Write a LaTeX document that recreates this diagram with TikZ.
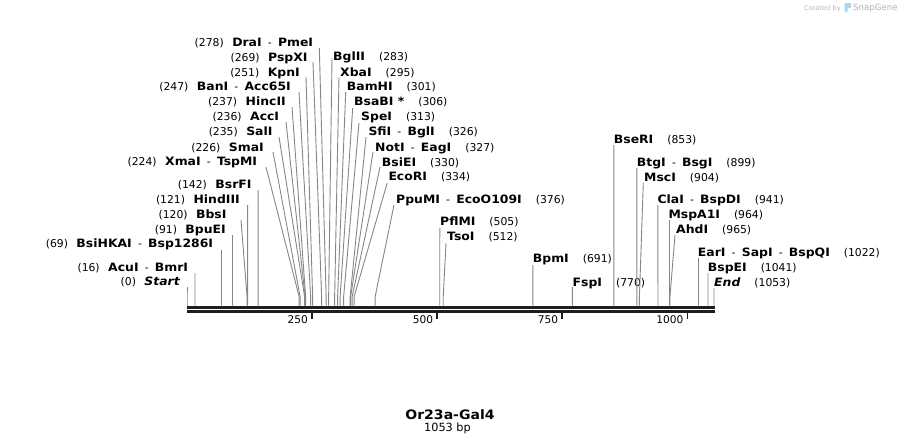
\documentclass[tikz,border=0pt]{standalone}
\usepackage{fontspec}
\setmainfont{DejaVu Sans}
\newfontfamily\bfont{DejaVu Sans}[FakeStretch=1.08]
\usetikzlibrary{calc}
\definecolor{dna}{HTML}{1E1E1E}
\definecolor{cut}{HTML}{868686}
\definecolor{wm}{HTML}{B8B8B8}
\definecolor{wmlogo}{HTML}{A9D8F2}
\tikzset{
  lbl/.style={inner sep=0pt, text=black, font=\fontsize{10.8}{12}\selectfont},
  cutline/.style={draw=cut, line width=0.9pt},
  dnaline/.style={draw=dna, line width=2.4pt},
  tick/.style={draw=dna, line width=1.8pt},
  ticklbl/.style={inner sep=0pt, anchor=base east, font=\fontsize{10.6}{12}\selectfont},
}
\newcommand\nm[1]{{\bfont\bfseries\fontsize{11.5}{12}\selectfont #1}}
\newcommand\nmi[1]{{\bfont\bfseries\itshape\fontsize{11.5}{12}\selectfont #1}}
\newcommand\dsh{\hspace{6.2pt}-\hspace{6.2pt}}
\newcommand\gapL{\hspace{8.5pt}}
\newcommand\gapR{\hspace{14pt}}
% left-hand label: id, bp, text right x, centre y, top x, top y, text
\newcommand\siteL[7]{%
  \node[lbl, anchor=base east] (#1) at (#3,#4+4) {#7};
  \coordinate (#1-s) at ({187+#2*0.50047},305.5);
  \coordinate (#1-t) at (#5,#6);
  \draw[cutline] (#1-s) -- ++(0,-9) -- (#1-t);}
% right-hand label: id, bp, text left x, centre y, top x, top y, text
\newcommand\siteR[7]{%
  \node[lbl, anchor=base west] (#1) at (#3,#4+4) {#7};
  \coordinate (#1-s) at ({187+#2*0.50047},305.5);
  \coordinate (#1-t) at (#5,#6);
  \draw[cutline] (#1-s) -- ++(0,-9) -- (#1-t);}
\begin{document}
\begin{tikzpicture}[x=1pt,y=-1pt]
\useasboundingbox (0,0) rectangle (901,445);
% watermark
\node[inner sep=0pt, anchor=base east, text=wm, font=\fontsize{6.7}{8}\selectfont] (wm1) at (841,10) {Created by};
\fill[wmlogo, rounded corners=1pt] (844.5,3) rectangle (851,8);
\fill[wmlogo, rounded corners=0.8pt] (844.5,3) rectangle (847.5,12);
\node[inner sep=0pt, anchor=base west, text=wm!90!gray, font=\fontsize{8.6}{10}\selectfont] (wm2) at (853,10.5) {SnapGene};
% DNA
\coordinate (d0) at (187,307.3);
\coordinate (d1) at (714.5,307.3);
\coordinate (e0) at (187,311.3);
\coordinate (e1) at (714.5,311.3);
\draw[dnaline] (d0) -- (d1);
\draw[dnaline] (e0) -- (e1);
% ticks
\foreach \v/\t in {250/t250,500/t500,750/t750,1000/t1000}{
  \coordinate (\t-a) at ({187+\v*0.50047},312);
  \draw[tick] (\t-a) -- ++(0,6.5);
  \node[ticklbl] (\t) at ({187+\v*0.50047-4},323.5) {\v};
}
% left labels
\siteL{start}{0}{180}{281}{187}{287}{(0)\gapL\nmi{Start}}
\siteL{acui}{16}{188.3}{267.5}{195}{273}{(16)\gapL\nm{AcuI}\dsh\nm{BmrI}}
\siteL{bsihkai}{69}{213.3}{243.5}{221.5}{250}{(69)\gapL\nm{BsiHKAI}\dsh\nm{Bsp1286I}}
\siteL{bpuei}{91}{226}{229.5}{232.5}{235}{(91)\gapL\nm{BpuEI}}
\siteL{bbsi}{120}{226.7}{214.5}{241}{220}{(120)\gapL\nm{BbsI}}
\siteL{hindiii}{121}{240}{199.5}{247.6}{205}{(121)\gapL\nm{HindIII}}
\siteL{bsrfi}{142}{251.7}{184}{258.1}{190}{(142)\gapL\nm{BsrFI}}
\siteL{xmai}{224}{257.3}{161.5}{266}{167}{(224)\gapL\nm{XmaI}\dsh\nm{TspMI}}
\siteL{smai}{226}{264}{147}{273}{152}{(226)\gapL\nm{SmaI}}
\siteL{sali}{235}{272.7}{131.5}{279}{137}{(235)\gapL\nm{SalI}}
\siteL{acci}{236}{279.3}{116}{286}{122}{(236)\gapL\nm{AccI}}
\siteL{hincii}{237}{286}{101.5}{292}{107}{(237)\gapL\nm{HincII}}
\siteL{bani}{247}{291}{86.5}{299}{92}{(247)\gapL\nm{BanI}\dsh\nm{Acc65I}}
\siteL{kpni}{251}{300}{72}{306}{77}{(251)\gapL\nm{KpnI}}
\siteL{pspxi}{269}{307.7}{57}{313}{62}{(269)\gapL\nm{PspXI}}
\siteL{drai}{278}{313.3}{42.8}{319.3}{48}{(278)\gapL\nm{DraI}\dsh\nm{PmeI}}
% right labels
\siteR{bglii}{283}{333}{56.5}{332}{58}{\nm{BglII}\gapR(283)}
\siteR{xbai}{295}{340}{72}{339}{77}{\nm{XbaI}\gapR(295)}
\siteR{bamhi}{301}{346.7}{86.5}{345.7}{92}{\nm{BamHI}\gapR(301)}
\siteR{bsabi}{306}{354}{101.5}{352.7}{108}{\nm{BsaBI *}\gapR(306)}
\siteR{spei}{313}{361}{116}{359}{123}{\nm{SpeI}\gapR(313)}
\siteR{sfii}{326}{368.3}{131.5}{366}{137}{\nm{SfiI}\dsh\nm{BglI}\gapR(326)}
\siteR{noti}{327}{375}{147}{373}{152}{\nm{NotI}\dsh\nm{EagI}\gapR(327)}
\siteR{bsiei}{330}{381.7}{162}{380}{167}{\nm{BsiEI}\gapR(330)}
\siteR{ecori}{334}{388.3}{176.5}{387.3}{182.7}{\nm{EcoRI}\gapR(334)}
\siteR{ppumi}{376}{396}{199}{394}{205}{\nm{PpuMI}\dsh\nm{EcoO109I}\gapR(376)}
\siteR{pflmi}{505}{440}{221.3}{439.8}{228}{\nm{PflMI}\gapR(505)}
\siteR{tsoi}{512}{447}{236.5}{446}{243}{\nm{TsoI}\gapR(512)}
\siteR{bpmi}{691}{532.7}{258.5}{532.8}{265}{\nm{BpmI}\gapR(691)}
\siteR{fspi}{770}{572.5}{282}{572.4}{287}{\nm{FspI}\gapR(770)}
\siteR{bseri}{853}{613.7}{139.3}{613.9}{145}{\nm{BseRI}\gapR(853)}
\siteR{btgi}{899}{636.7}{162}{636.9}{168}{\nm{BtgI}\dsh\nm{BsgI}\gapR(899)}
\siteR{msci}{904}{644}{177}{643.3}{183}{\nm{MscI}\gapR(904)}
\siteR{clai}{941}{657.3}{199}{657.9}{205}{\nm{ClaI}\dsh\nm{BspDI}\gapR(941)}
\siteR{mspa1i}{964}{668.3}{214.3}{669.5}{220}{\nm{MspA1I}\gapR(964)}
\siteR{ahdi}{965}{676}{229}{675}{235}{\nm{AhdI}\gapR(965)}
\siteR{eari}{1022}{697.7}{252.3}{698.5}{258}{\nm{EarI}\dsh\nm{SapI}\dsh\nm{BspQI}\gapR(1022)}
\siteR{bspei}{1041}{707.7}{267.3}{708}{273}{\nm{BspEI}\gapR(1041)}
\siteR{endsite}{1053}{714}{282.3}{714}{288}{\nmi{End}\gapR(1053)}
% title
\node[inner sep=0pt, font=\bfont\bfseries\fontsize{13}{15}\selectfont] (title) at (450,414.5) {Or23a-Gal4};
\node[inner sep=0pt, font=\fontsize{11.3}{13}\selectfont] (size) at (447.5,428.5) {1053 bp};
\end{tikzpicture}
\end{document}
